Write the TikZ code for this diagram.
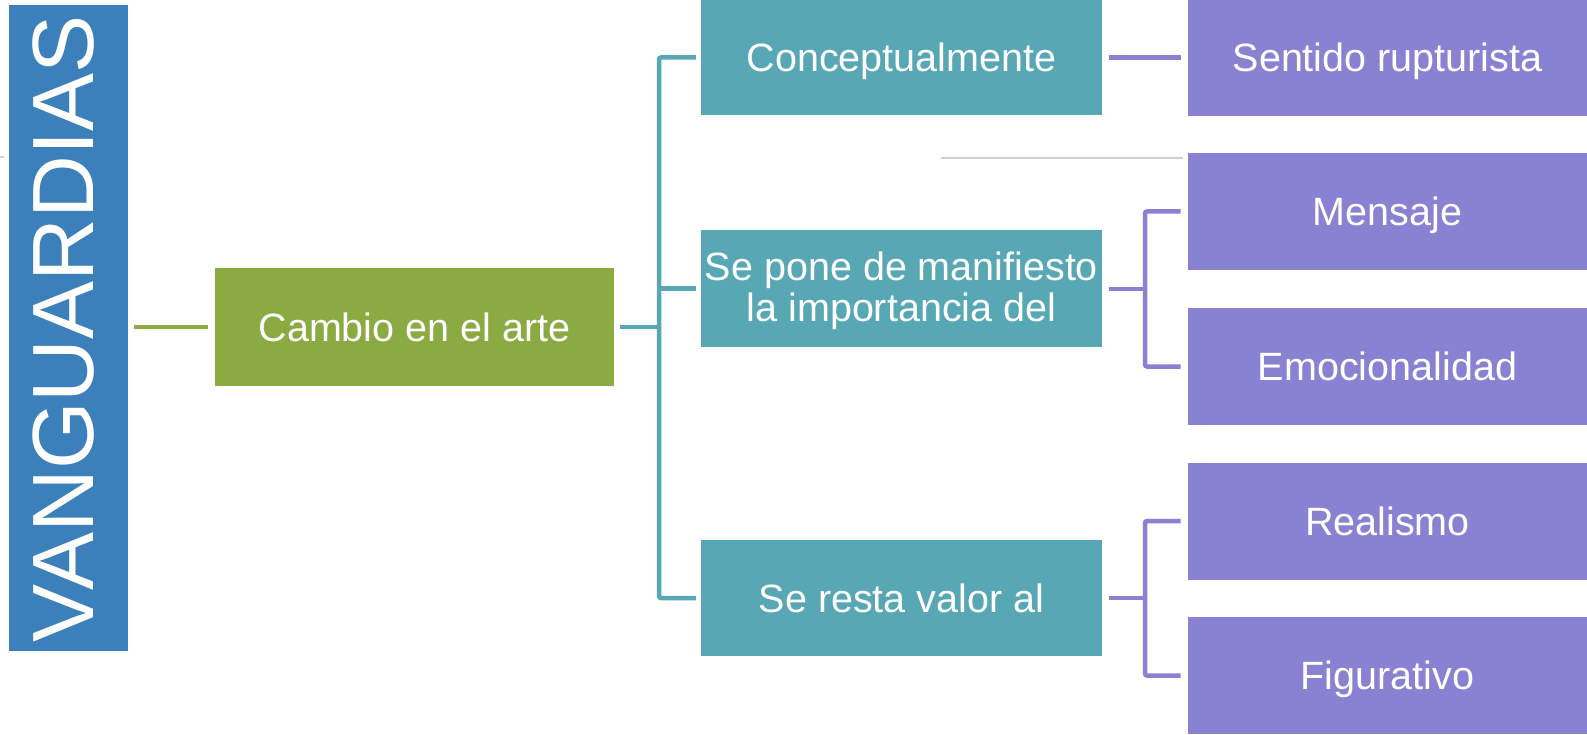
\documentclass[tikz,border=0pt]{standalone}
\usepackage{fontspec}
\setmainfont{Liberation Sans}
\definecolor{cblue}{RGB}{59,128,186}
\definecolor{cgreen}{RGB}{138,171,65}
\definecolor{cteal}{RGB}{88,167,181}
\definecolor{cpurple}{RGB}{137,129,209}
\tikzset{
  box/.style={rectangle, inner sep=0pt, outer sep=0pt, text=white, align=center,
    font=\fontsize{39.5}{41}\selectfont},
  oneline/.style={text height=28pt, text depth=0pt},
  greenbox/.style={box, oneline, fill=cgreen, minimum width=399, minimum height=118},
  tealbox/.style={box, fill=cteal, minimum width=401, minimum height=116},
  purplebox/.style={box, oneline, fill=cpurple, minimum width=400, minimum height=117},
  gline/.style={draw=cgreen, line width=4.5},
  tline/.style={draw=cteal, line width=4.5, rounded corners=2},
  pline/.style={draw=cpurple, line width=4.5, rounded corners=2},
  thin/.style={draw=black!18, line width=1.8}
}
\begin{document}
\begin{tikzpicture}[x=1pt,y=-1pt]
\useasboundingbox (0,0) rectangle (1587,735);
\fill[white] (0,0) rectangle (1587,735);
% left title
\node[rectangle, fill=cblue, minimum width=119, minimum height=646, inner sep=0, outer sep=0] (blue) at (68.5,328) {};
\node[text=white, rotate=90, inner sep=0, font=\fontsize{87}{87}\selectfont] (title) at (64,329) {VANGUARDIAS};
% main nodes
\node[greenbox] (green) at (414.5,327) {Cambio en el arte};
\node[tealbox, oneline] (conc) at (901.5,57.5) {Conceptualmente};
\node[tealbox] (pone) at (901.5,288.5) {};
\node[box, anchor=center] (ponetxt) at (901.5,290.5) {Se pone de manifiesto\\la importancia del};
\node[tealbox, oneline] (resta) at (901.5,598) {Se resta valor al};
\node[purplebox] (sent) at (1387.5,58) {Sentido rupturista};
\node[purplebox] (mens) at (1387.5,211.5) {Mensaje};
\node[purplebox] (emoc) at (1387.5,366.5) {Emocionalidad};
\node[purplebox] (real) at (1387.5,521) {Realismo};
\node[purplebox] (figu) at (1387.5,675.5) {Figurativo};
% thin gray lines
\coordinate (g1a) at (0,157);
\coordinate (g1b) at (4,157);
\coordinate (g2a) at (941,158);
\coordinate (g2b) at (1183,158);
\draw[thin] (g1a) -- (g1b);
\draw[thin] (g2a) -- (g2b);
% connectors
\draw[gline] ([xshift=6]blue.east |- green.west) -- ([xshift=-7]green.west);
\coordinate (tj) at (659,327);
\draw[tline] ([xshift=6]green.east) -- (tj);
\draw[tline] ([xshift=-5]conc.west) -| (tj) |- ([xshift=-5]resta.west);
\draw[tline] (tj |- pone.west) -- ([xshift=-5]pone.west);
\draw[pline] ([xshift=7]conc.east) -- ([xshift=-7]sent.west |- conc.east);
\coordinate (pj) at (1145,289);
\draw[pline] ([xshift=7]pone.east |- pj) -- (pj);
\draw[pline] ([xshift=-7]mens.west) -| (pj) |- ([xshift=-7]emoc.west);
\coordinate (rj) at (1145,598);
\draw[pline] ([xshift=7]resta.east) -- (rj);
\draw[pline] ([xshift=-7]real.west) -| (rj) |- ([xshift=-7]figu.west);
\end{tikzpicture}
\end{document}
